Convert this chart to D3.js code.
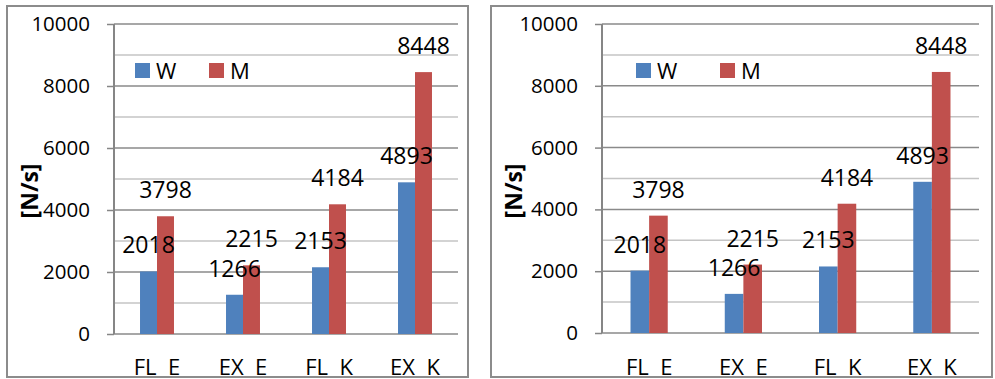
<!DOCTYPE html>
<html>
<head>
<meta charset="utf-8">
<script src="https://cdn.jsdelivr.net/npm/d3@7/dist/d3.min.js"></script>
<style>
  html, body { margin: 0; padding: 0; background: #fff; }
  svg text { font-family: "Open Sans", "Liberation Sans", sans-serif; white-space: pre; }
</style>
</head>
<body>
<svg id="chart" width="995" height="379"></svg>
<script>
// ---- data ----
const categories = ["FL  E", "EX  E", "FL  K", "EX  K"];
const seriesNames = ["W", "M"];
const valuesW = [2018, 1266, 2153, 4893];
const valuesM = [3798, 2215, 4184, 8448];
const yTicks = [0, 2000, 4000, 6000, 8000, 10000];
const yMinorTicks = [1000, 3000, 5000, 7000, 9000];
const yTitle = "[N/s]";

const colors = { W: "#4F81BD", M: "#C0504D" };
const seriesValues = { W: valuesW, M: valuesM };

const svg = d3.select("#chart");

const panels = [
  { bx: 7, by: 6, bw: 461, bh: 371, x0: 114, x1: 458, yTop: 24, yBot: 334,
    titleX: 30, titleY: 191, legW: 135, legM: 209 },
  { bx: 491, by: 6, bw: 501, bh: 371, x0: 602, x1: 979, yTop: 24, yBot: 333,
    titleX: 514, titleY: 191, legW: 636, legM: 720 }
];

panels.forEach(p => {
  const g = svg.append("g");
  const y = d3.scaleLinear().domain([0, 10000]).range([p.yBot, p.yTop]);
  const x = d3.scaleBand().domain(categories).range([p.x0, p.x1]).padding(0);
  const bw = x.bandwidth();
  const groupW = bw * 0.395;
  const xs = d3.scaleBand().domain(seriesNames)
    .range([bw / 2 - groupW / 2, bw / 2 + groupW / 2]).padding(0);

  // border
  g.append("rect").attr("x", p.bx).attr("y", p.by).attr("width", p.bw).attr("height", p.bh)
    .attr("fill", "#fff").attr("stroke", "#8c8c8c").attr("stroke-width", 2);

  // minor gridlines
  g.selectAll(".minor").data(yMinorTicks).join("line")
    .attr("x1", p.x0).attr("x2", p.x1)
    .attr("y1", d => y(d)).attr("y2", d => y(d))
    .attr("stroke", "#c4c4c4").attr("stroke-width", 1.5);

  // y axis with major gridlines
  const yAxis = d3.axisLeft(y).tickValues(yTicks).tickSize(7).tickPadding(17)
    .tickFormat(d3.format("d"));
  const ya = g.append("g").attr("transform", `translate(${p.x0},0)`).call(yAxis);
  ya.select(".domain").remove();
  ya.selectAll(".tick line").attr("stroke", "#868686").attr("stroke-width", 1.5);
  ya.selectAll(".tick text").attr("font-size", 20.5).attr("fill", "#000")
    .attr("font-family", "'Open Sans', sans-serif");
  g.selectAll(".major").data(yTicks).join("line")
    .attr("x1", p.x0).attr("x2", p.x1)
    .attr("y1", d => y(d)).attr("y2", d => y(d))
    .attr("stroke", "#8a8a8a").attr("stroke-width", 1.5);
  g.append("line").attr("x1", p.x0).attr("x2", p.x0).attr("y1", p.yTop).attr("y2", p.yBot)
    .attr("stroke", "#868686").attr("stroke-width", 2);

  // bars
  seriesNames.forEach(s => {
    const vals = seriesValues[s];
    g.selectAll(".bar" + s).data(categories).join("rect")
      .attr("x", (c) => x(c) + xs(s))
      .attr("width", xs.bandwidth())
      .attr("y", (c, i) => y(vals[i]))
      .attr("height", (c, i) => y(0) - y(vals[i]))
      .attr("fill", colors[s]);
  });
  // data labels
  seriesNames.forEach(s => {
    const vals = seriesValues[s];
    g.selectAll(".lab" + s).data(categories).join("text")
      .attr("x", c => x(c) + xs(s) + xs.bandwidth() / 2)
      .attr("y", (c, i) => y(vals[i]) - 18)
      .attr("text-anchor", "middle").attr("font-size", 23).attr("fill", "#000")
      .text((c, i) => vals[i]);
  });

  // x axis labels
  g.selectAll(".xl").data(categories).join("text")
    .attr("x", c => x(c) + bw / 2).attr("y", 375)
    .attr("text-anchor", "middle").attr("font-size", 22).attr("fill", "#000")
    .text(c => c);

  // y title
  g.append("text")
    .attr("transform", `translate(${p.titleX + 8},${p.titleY}) rotate(-90)`)
    .attr("text-anchor", "middle").attr("font-size", 23).attr("font-weight", "bold")
    .attr("fill", "#000").text(yTitle);

  // legend
  const legX = { W: p.legW, M: p.legM };
  seriesNames.forEach(s => {
    g.append("rect").attr("x", legX[s]).attr("y", 63).attr("width", 15).attr("height", 15)
      .attr("fill", colors[s]);
    g.append("text").attr("x", legX[s] + 21).attr("y", 79)
      .attr("font-size", 22).attr("fill", "#000").text(s);
  });
});
</script>
</body>
</html>
